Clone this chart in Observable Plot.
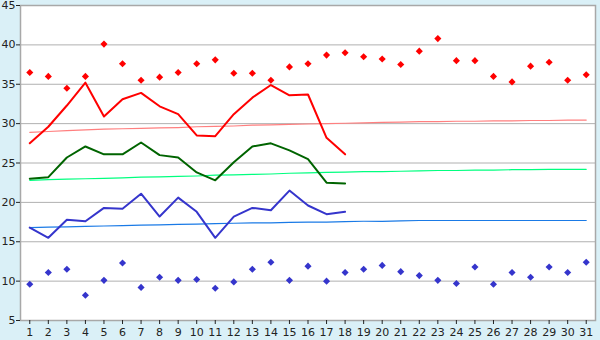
<!DOCTYPE html>
<html>
<head>
<meta charset="utf-8">
<script src="https://cdn.jsdelivr.net/npm/d3@7"></script>
<script src="https://cdn.jsdelivr.net/npm/@observablehq/plot@0.6"></script>
<style>
  html, body { margin: 0; padding: 0; background: #daf0f7; }
  #chart svg { display: block; }
</style>
</head>
<body>
<div id="chart"></div>
<script>
const days = [1,2,3,4,5,6,7,8,9,10,11,12,13,14,15,16,17,18,19,20,21,22,23,24,25,26,27,28,29,30,31];
const recordMax = [36.5,36.0,34.5,36.0,40.1,37.6,35.5,35.9,36.5,37.6,38.1,36.4,36.4,35.5,37.2,37.6,38.7,39.0,38.5,38.2,37.5,39.2,40.8,38.0,38.0,36.0,35.3,37.3,37.8,35.5,36.2];
const recordMin = [9.6,11.1,11.5,8.2,10.1,12.3,9.2,10.5,10.1,10.2,9.1,9.9,11.5,12.4,10.1,11.9,10.0,11.1,11.5,12.0,11.2,10.7,10.1,9.7,11.8,9.6,11.1,10.5,11.8,11.1,12.4];
const obsMax = [27.5,29.6,32.3,35.2,30.9,33.1,33.9,32.2,31.2,28.5,28.4,31.2,33.3,34.9,33.6,33.7,28.2,26.1];
const obsMean = [23.0,23.2,25.7,27.1,26.1,26.1,27.6,26.0,25.7,23.8,22.8,25.1,27.1,27.5,26.6,25.5,22.5,22.4];
const obsMin = [16.8,15.5,17.8,17.6,19.3,19.2,21.1,18.2,20.6,18.8,15.5,18.2,19.3,19.0,21.5,19.6,18.5,18.8];
const normMax = [28.9,29.0,29.1,29.2,29.3,29.35,29.4,29.45,29.5,29.6,29.65,29.7,29.8,29.85,29.9,29.95,30.0,30.05,30.1,30.15,30.2,30.25,30.25,30.3,30.3,30.35,30.35,30.4,30.4,30.45,30.45];
const normMean = [22.8,22.9,22.95,23.0,23.05,23.1,23.2,23.25,23.3,23.35,23.45,23.5,23.55,23.6,23.7,23.75,23.8,23.85,23.9,23.9,23.95,24.0,24.05,24.05,24.1,24.1,24.15,24.15,24.2,24.2,24.2];
const normMin = [16.8,16.85,16.9,16.95,17.0,17.05,17.1,17.15,17.2,17.25,17.3,17.35,17.4,17.4,17.45,17.5,17.5,17.55,17.6,17.6,17.65,17.7,17.7,17.7,17.7,17.7,17.7,17.7,17.7,17.7,17.7];
const yTicks = [5,10,15,20,25,30,35,40,45];
const gridTicks = [10,15,20,25,30,35,40];

const toRows = (vals) => vals.map((v, i) => ({day: days[i], v}));

const chart = Plot.plot({
  width: 600,
  height: 340,
  marginLeft: 20,
  marginRight: 5,
  marginTop: 5,
  marginBottom: 20,
  style: {background: "#daf0f7", fontFamily: "DejaVu Sans, Verdana, sans-serif", fontSize: "11px", color: "#222"},
  x: {domain: [0.5, 31.5], label: null},
  y: {domain: [5, 45], label: null},
  marks: [
    Plot.frame({fill: "white", stroke: null}),
    Plot.ruleY(gridTicks, {stroke: "#b0b0b0", strokeWidth: 1}),
    Plot.line(toRows(normMax), {x: "day", y: "v", stroke: "#ff7f7f", strokeWidth: 1.2}),
    Plot.line(toRows(normMean), {x: "day", y: "v", stroke: "#00ff7f", strokeWidth: 1.2}),
    Plot.line(toRows(normMin), {x: "day", y: "v", stroke: "#1a7ae6", strokeWidth: 1.2}),
    Plot.line(toRows(obsMax), {x: "day", y: "v", stroke: "#ff0000", strokeWidth: 2}),
    Plot.line(toRows(obsMean), {x: "day", y: "v", stroke: "#006400", strokeWidth: 2}),
    Plot.line(toRows(obsMin), {x: "day", y: "v", stroke: "#3535cc", strokeWidth: 2}),
    Plot.dot(toRows(recordMax), {x: "day", y: "v", symbol: "diamond2", r: 3.2, fill: "#ff0000", stroke: null}),
    Plot.dot(toRows(recordMin), {x: "day", y: "v", symbol: "diamond2", r: 3.2, fill: "#3535cc", stroke: null}),
    Plot.frame({stroke: "#a8a8a8", strokeWidth: 1.5}),
    Plot.axisY(yTicks, {label: null, tickSize: 4, tickPadding: 1, stroke: "#222", fill: "#222", fontSize: 11}),
    Plot.axisX(days, {label: null, tickSize: 4, tickPadding: 4, stroke: "#222", fill: "#222", fontSize: 11})
  ]
});
document.getElementById("chart").appendChild(chart);
</script>
</body>
</html>
